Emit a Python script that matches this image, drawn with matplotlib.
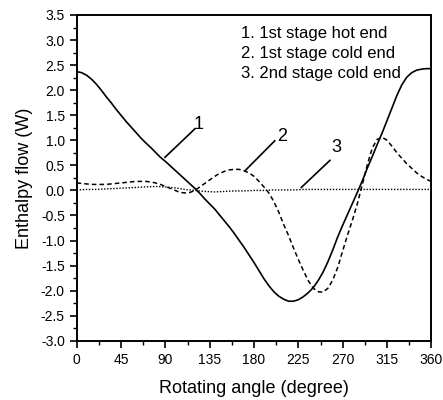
import matplotlib
matplotlib.use("Agg")
import matplotlib.pyplot as plt
from matplotlib.ticker import MultipleLocator

plt.rcParams['font.family'] = ['Liberation Sans', 'DejaVu Sans']

angle_5 = list(range(0, 361, 5))
angle_10 = list(range(0, 361, 10))

hot_end_1st = [2.37, 2.35, 2.30, 2.22, 2.12, 2.00, 1.87, 1.75, 1.62, 1.50, 1.38, 1.27, 1.16, 1.05, 0.95, 0.86, 0.76,
               0.66, 0.58, 0.49, 0.40, 0.31, 0.22, 0.13, 0.04, -0.06, -0.17, -0.27, -0.37, -0.49, -0.61, -0.73,
               -0.86, -1.00, -1.14, -1.29, -1.44, -1.60, -1.76, -1.90, -2.02, -2.11, -2.17, -2.21, -2.21, -2.18,
               -2.12, -2.04, -1.94, -1.80, -1.63, -1.42, -1.18, -0.92, -0.69, -0.47, -0.25, -0.03, 0.20, 0.45,
               0.68, 0.92, 1.15, 1.40, 1.65, 1.90, 2.11, 2.26, 2.35, 2.40, 2.42, 2.43, 2.43]
cold_end_1st = [0.15, 0.14, 0.13, 0.12, 0.12, 0.12, 0.12, 0.13, 0.14, 0.15, 0.16, 0.17, 0.18, 0.18, 0.18, 0.17, 0.15,
                0.12, 0.08, 0.04, 0.00, -0.04, -0.05, -0.04, 0.00, 0.07, 0.14, 0.21, 0.28, 0.34, 0.38, 0.41, 0.42,
                0.42, 0.39, 0.35, 0.28, 0.18, 0.07, -0.05, -0.22, -0.43, -0.68, -0.90, -1.15, -1.38, -1.60, -1.80,
                -1.95, -2.02, -2.03, -1.95, -1.78, -1.53, -1.20, -0.88, -0.58, -0.25, 0.13, 0.52, 0.85, 1.02, 1.06,
                1.00, 0.88, 0.75, 0.64, 0.53, 0.44, 0.35, 0.28, 0.22, 0.18]
cold_end_2nd = [0.01, 0.02, 0.02, 0.03, 0.04, 0.05, 0.06, 0.07, 0.08, 0.07, 0.05, 0.02, 0.00, -0.02, -0.03, -0.02,
                -0.01, -0.01, 0.00, 0.00, 0.01, 0.01, 0.01, 0.02, 0.02, 0.02, 0.02, 0.02, 0.02, 0.02, 0.02, 0.02,
                0.02, 0.02, 0.02, 0.02, 0.02]

legend_lines = ["1. 1st stage hot end", "2. 1st stage cold end", "3. 2nd stage cold end"]
curve_labels = ["1", "2", "3"]

fig = plt.figure(figsize=(4.43, 4.0), dpi=100)
ax = fig.add_axes([0.173, 0.148, 0.801, 0.8145])

ax.plot(angle_5, hot_end_1st, color='black', lw=1.2, ls='-')
ax.plot(angle_5, cold_end_1st, color='black', lw=1.1, ls=(0, (3, 2)))
ax.plot(angle_10, cold_end_2nd, color='black', lw=1.0, ls=(0, (1, 1.2)))

# curve label leader lines and numbers
leaders = [(89.6, 0.66, 120, 1.23, 123.3, 1.31),
           (170.7, 0.39, 201, 0.99, 208.5, 1.08),
           (228, 0.06, 257, 0.60, 263.5, 0.86)]
for (x0, y0, x1, y1, tx, ty), lab in zip(leaders, curve_labels):
    ax.plot([x0, x1], [y0, y1], color='black', lw=1.2)
    ax.text(tx, ty, lab, fontsize=13, ha='center', va='center')

for i, t in enumerate(legend_lines):
    ax.text(167, 3.13 - 0.4 * i, t, fontsize=12, ha='left', va='center')

ax.set_xlim(0, 360)
ax.set_ylim(-3.0, 3.5)
ax.xaxis.set_major_locator(MultipleLocator(45))
ax.xaxis.set_minor_locator(MultipleLocator(22.5))
ax.yaxis.set_major_locator(MultipleLocator(0.5))
ax.yaxis.set_minor_locator(MultipleLocator(0.25))
ax.yaxis.set_major_formatter(plt.FuncFormatter(lambda v, p: f"{v:.1f}"))
ax.tick_params(which='major', direction='out', length=5, width=1.2, labelsize=10)
ax.tick_params(which='minor', direction='out', length=3, width=1.0)
for s in ax.spines.values():
    s.set_linewidth(1.4)

ax.set_xlabel("Rotating angle (degree)", fontsize=13, labelpad=10)
ax.set_ylabel("Enthalpy flow (W)", fontsize=13, labelpad=6)

fig.savefig("out.png", dpi=100)
